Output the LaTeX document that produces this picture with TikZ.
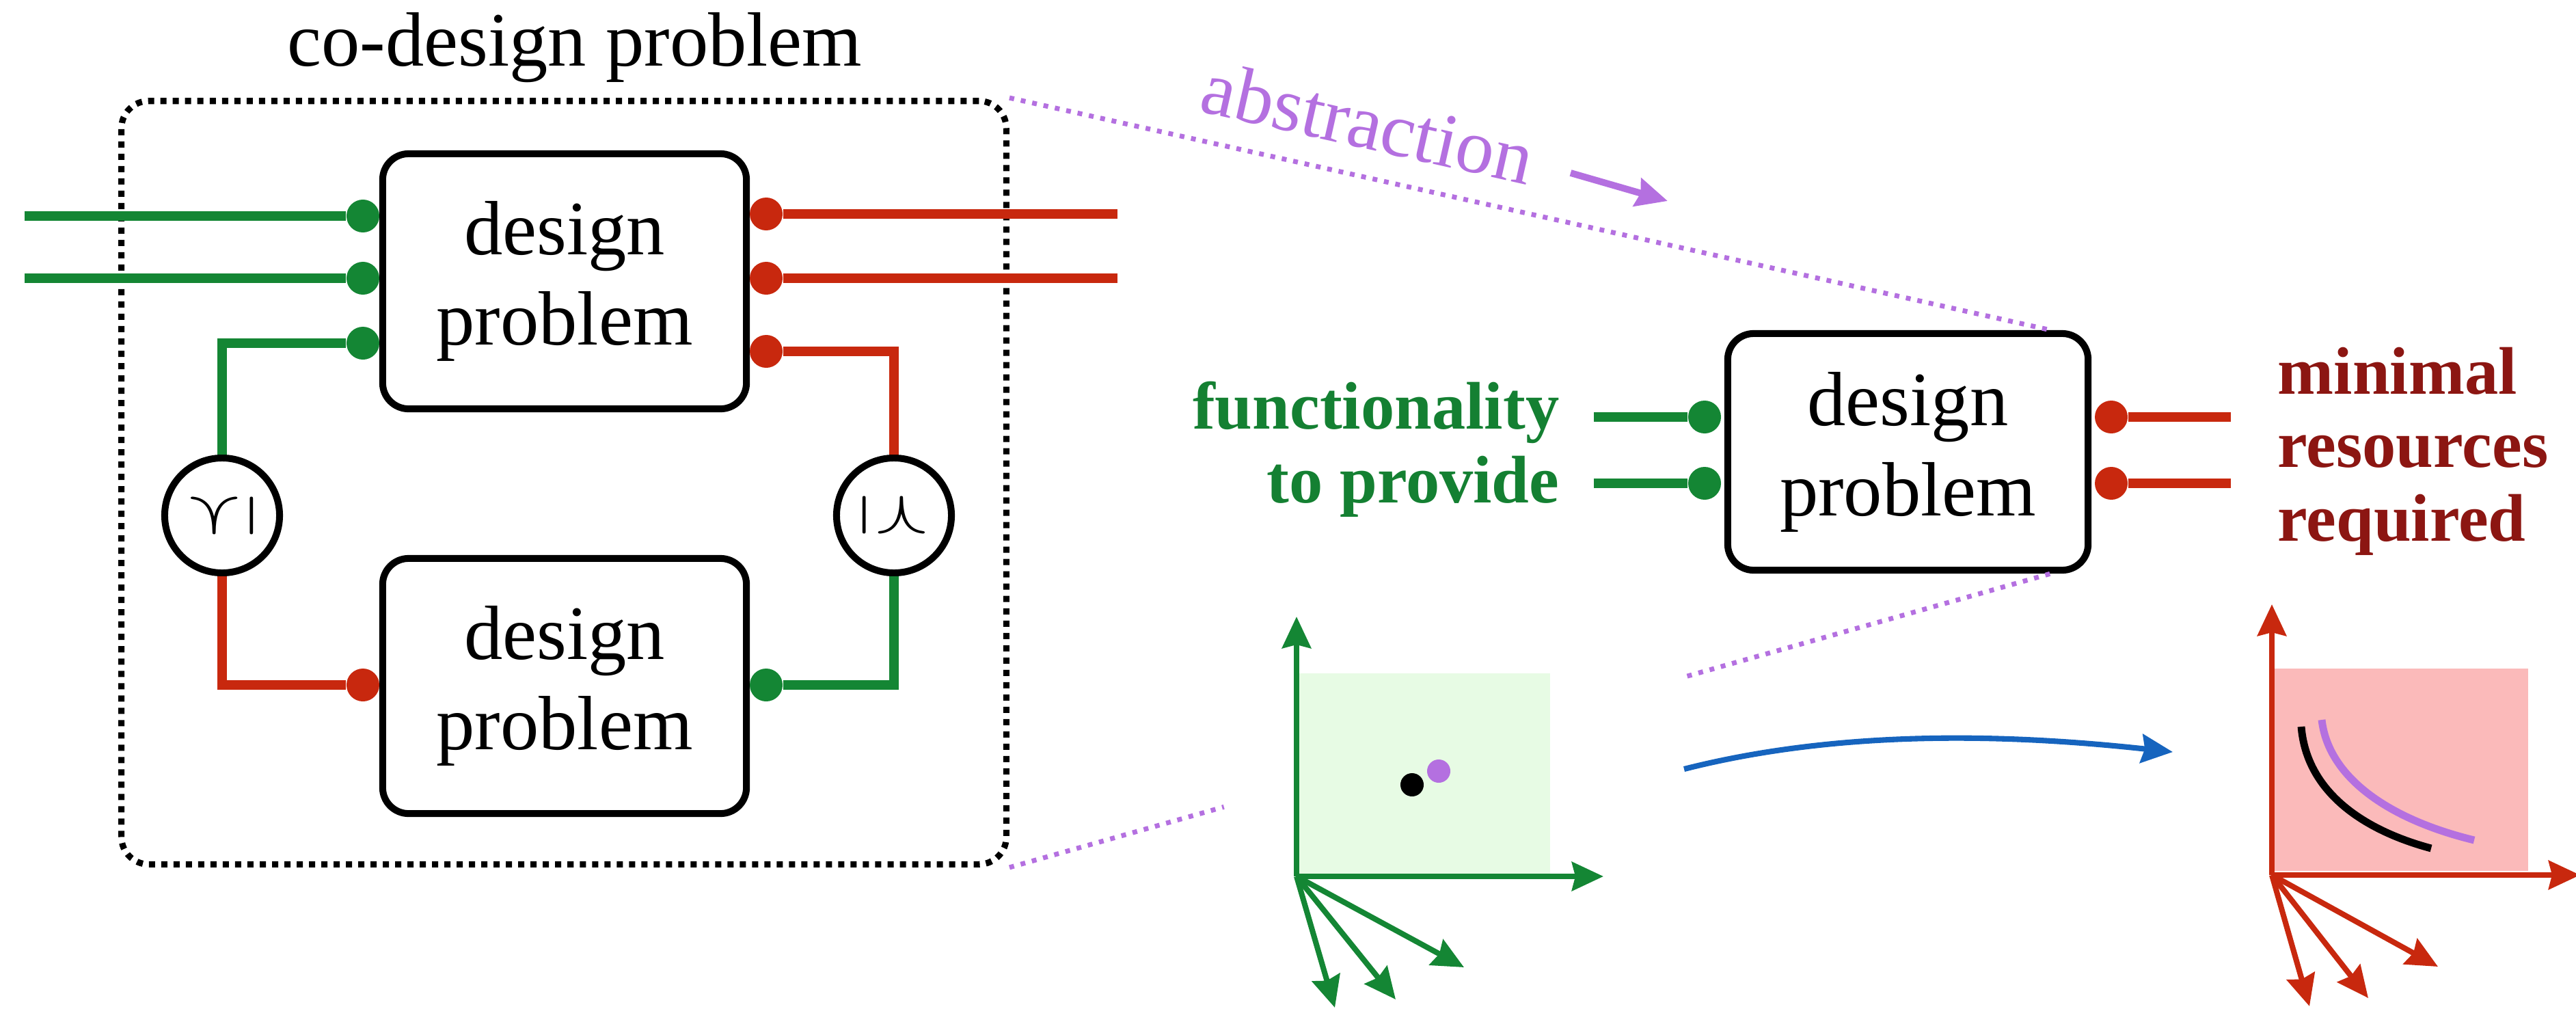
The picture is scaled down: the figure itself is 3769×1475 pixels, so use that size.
\documentclass[tikz,border=0pt]{standalone}
\usepackage{fontspec}
\setmainfont{Liberation Serif}
\usepackage{graphicx}
\usetikzlibrary{arrows.meta,calc}

\definecolor{fgreen}{RGB}{20,134,52}
\definecolor{fred}{RGB}{200,40,14}
\definecolor{tgreen}{RGB}{20,128,50}
\definecolor{tred}{RGB}{140,22,18}
\definecolor{absp}{RGB}{180,112,224}
\definecolor{lgreen}{RGB}{231,251,228}
\definecolor{lpink}{RGB}{251,186,186}
\definecolor{fblue}{RGB}{22,100,190}

\begin{document}
\begin{tikzpicture}[x=0.01cm, y=-0.01cm,
  dp/.style={draw, line width=2.85pt, rounded corners=0.38cm, minimum width=5.32cm,
    minimum height=3.73cm, inner sep=0pt, align=center, font=\fontsize{32}{37.5}\selectfont},
  port/.style={circle, fill, inner sep=0pt, minimum size=0.48cm},
  wire/.style={line width=3.9pt},
  cmp/.style={circle, draw, line width=2.85pt, minimum size=1.68cm, inner sep=0pt},
  ax/.style={line width=2.3pt, -{Stealth[length=0.46cm, width=0.42cm, inset=0.05cm]}},
  absline/.style={draw=absp, line width=2pt, dash pattern=on 0.07cm off 0.1cm},
  lbl/.style={font=\bfseries\fontsize{28}{30.5}\selectfont, inner sep=0pt}
]
\useasboundingbox (0,0) rectangle (3769,1475);

% ---------- co-design problem ----------
\node[anchor=base, font=\fontsize{32}{38}\selectfont, inner sep=0pt] (title) at (841,96) {co-design problem};
\node[draw, line width=2.6pt, dash pattern=on 0.09cm off 0.09cm, rounded corners=0.4cm,
  minimum width=12.94cm, minimum height=11.16cm, inner sep=0pt] (cd) at (825,706) {};

\node[dp] (T) at (826,411.5) {design\\problem};
\node[dp] (B) at (826,1003.5) {design\\problem};

\node[cmp] (cl) at (325,754) {\resizebox*{0.91cm}{0.70cm}{\rotatebox{90}{$\preceq$}}};
\node[cmp] (cr) at (1308,754) {\resizebox*{0.91cm}{0.70cm}{\rotatebox{-90}{$\preceq$}}};

% ports of the upper problem
\node[port, fgreen] (ta1) at (531,316) {};
\node[port, fgreen] (ta2) at (531,407) {};
\node[port, fgreen] (ta3) at (531,502) {};
\node[port, fred] (tr1) at (1121,313) {};
\node[port, fred] (tr2) at (1121,407) {};
\node[port, fred] (tr3) at (1121,514) {};
% ports of the lower problem
\node[port, fred] (ba1) at (531,1002) {};
\node[port, fgreen] (br1) at (1121,1002) {};

\coordinate (gin1) at (36,316);
\coordinate (gin2) at (36,407);
\coordinate (rout1) at (1635,313);
\coordinate (rout2) at (1635,407);

\draw[wire, fgreen] (gin1) -- (ta1);
\draw[wire, fgreen] (gin2) -- (ta2);
\draw[wire, fred] (tr1) -- (rout1);
\draw[wire, fred] (tr2) -- (rout2);
\draw[wire, fgreen] (ta3) -| (cl.north);
\draw[wire, fred] (cl.south) |- (ba1);
\draw[wire, fred] (tr3) -| (cr.north);
\draw[wire, fgreen] (cr.south) |- (br1);

% ---------- abstracted design problem ----------
\node[dp, minimum width=5.27cm, minimum height=3.46cm] (R) at (2791.5,661) {design\\problem};
\node[port, fgreen] (ra1) at (2494,610) {};
\node[port, fgreen] (ra2) at (2494,707) {};
\node[port, fred] (rr1) at (3089,610) {};
\node[port, fred] (rr2) at (3089,707) {};
\coordinate (fin1) at (2332,610);
\coordinate (fin2) at (2332,707);
\coordinate (rres1) at (3264,610);
\coordinate (rres2) at (3264,707);
\draw[wire, fgreen] (fin1) -- (ra1);
\draw[wire, fgreen] (fin2) -- (ra2);
\draw[wire, fred] (rr1) -- (rres1);
\draw[wire, fred] (rr2) -- (rres2);

% anchors sit on the baseline of the last line of each label
\node[lbl, text=tgreen, align=right, anchor=base east] (fun) at (2282,735) {functionality\\to provide};
\node[lbl, text=tred, align=left, anchor=base west] (res) at (3332,791) {minimal\\resources\\required};

% ---------- abstraction ----------
\coordinate (ta) at ($(R.north east)+(-60,0)$);
\coordinate (tb) at ($(R.south east)+(-60,0)$);
\draw[absline] (cd.north east) -- (ta);
\draw[absline] (cd.south east) -- ($(cd.south east)!0.206!(tb)$);
\draw[absline] ($(cd.south east)!0.651!(tb)$) -- (tb);
\node[text=absp, rotate=-12.7, anchor=base west, font=\fontsize{32}{38}\selectfont, inner sep=0pt] (abs) at (1752,162) {abstraction};
\coordinate (aa) at (2298,253);
\coordinate (ab) at (2440,294);
\draw[absp, line width=2.8pt, -{Stealth[length=0.46cm, width=0.42cm, inset=0.05cm]}] (aa) -- (ab);

% ---------- functionality space ----------
\fill[lgreen] (1897,985) rectangle (2268,1278);
\coordinate (go) at (1897,1282);
\draw[ax, fgreen] (go) -- (1897,902);
\draw[ax, fgreen] (go) -- (2346,1282);
\draw[ax, fgreen] (go) -- (1953,1474);
\draw[ax, fgreen] (go) -- (2042,1462);
\draw[ax, fgreen] (go) -- (2142,1415);
\fill[black] (2066,1148) circle (0.17cm);
\fill[absp] (2105,1128) circle (0.17cm);

% ---------- resources space ----------
\fill[lpink] (3328,978) rectangle (3699,1274);
\coordinate (ro) at (3324,1280);
\draw[ax, fred] (ro) -- (3324,884);
\draw[ax, fred] (ro) -- (3775,1280);
\draw[ax, fred] (ro) -- (3379,1472);
\draw[ax, fred] (ro) -- (3465,1460);
\draw[ax, fred] (ro) -- (3567,1414);
\draw[black, line width=3.1pt] (3367,1063) .. controls (3375,1160) and (3460,1215) .. (3557,1241);
\draw[absp, line width=3.1pt] (3397,1053) .. controls (3407,1140) and (3500,1200) .. (3620,1229);

% ---------- map between the spaces ----------
\coordinate (ma) at (2464,1125);
\coordinate (mb) at (3179,1100);
\draw[fblue, line width=2.3pt, -{Stealth[length=0.46cm, width=0.42cm, inset=0.05cm]}]
  (ma) .. controls (2700,1065) and (2950,1075) .. (mb);
\end{tikzpicture}
\end{document}
